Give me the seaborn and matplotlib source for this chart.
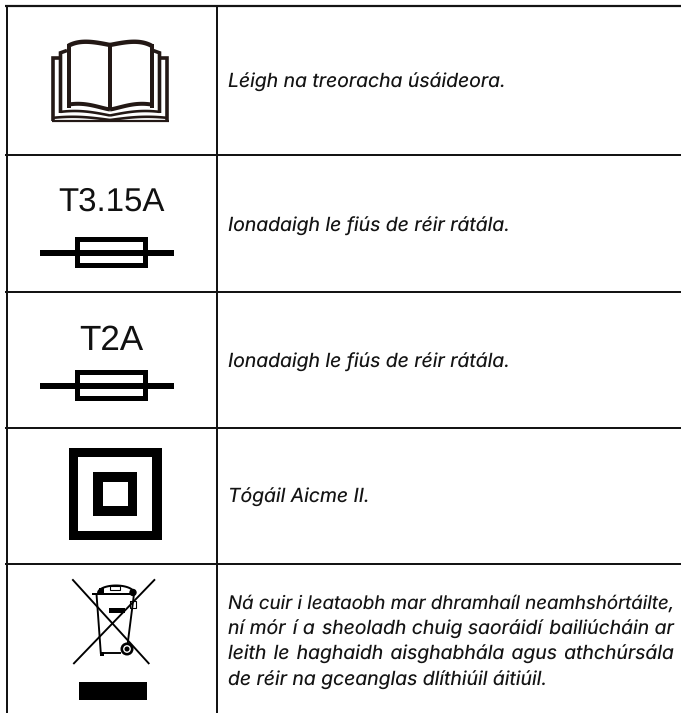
import matplotlib
matplotlib.use("Agg")
import matplotlib.pyplot as plt
from matplotlib.patches import Rectangle, Circle
import numpy as np
import seaborn as sns

sns.set_theme(style="white")
plt.rcParams['font.family'] = ['Inter', 'Roboto', 'DejaVu Sans']
plt.rcParams['text.hinting'] = 'none'
plt.rcParams['text.hinting_factor'] = 1

symbol_labels = ["T3.15A", "T2A"]
descriptions = [
    "Léigh na treoracha úsáideora.",
    "Ionadaigh le fiús de réir rátála.",
    "Ionadaigh le fiús de réir rátála.",
    "Tógáil Aicme II.",
]
last_lines = [
    "Ná cuir i leataobh mar dhramhaíl neamhshórtáilte,",
    "ní mór í a sheoladh chuig saoráidí bailiúcháin ar",
    "leith le haghaidh aisghabhála agus athchúrsála",
    "de réir na gceanglas dlíthiúil áitiúil.",
]

W, H = 681, 713
PX = 72 / 100
fig = plt.figure(figsize=(W / 100, H / 100), dpi=100)
ax = fig.add_axes([0, 0, 1, 1])
ax.set_xlim(0, W)
ax.set_ylim(H, 0)
ax.axis("off")
BLACK = "#000000"
DARK = "#231815"
TXT = "#141414"
FS = 19.4 * PX


def rule(x, y, lw=2.0, color="#141414"):
    sns.lineplot(x=x, y=y, ax=ax, color=color, linewidth=lw * PX, sort=False,
                 estimator=None, legend=False, solid_capstyle="butt")


def stroke(x, y, lw, color=BLACK, cap="butt", join="miter"):
    ax.plot(x, y, color=color, lw=lw * PX, solid_capstyle=cap, solid_joinstyle=join)


def box(x0, y0, x1, y1, color=BLACK):
    ax.add_patch(Rectangle((x0, y0), x1 - x0, y1 - y0, facecolor=color, edgecolor="none"))


# table rules
rule([5, 681], [6, 6], 2.2)
for yy in [155.3, 291.6, 427.8, 563.5]:
    rule([5, 681], [yy, yy], 2.0)
rule([6.5, 6.5], [5, 713], 2.0)
rule([217, 217], [5, 713], 2.0)

# book
b_lw = 4.0
t = np.linspace(0, 1, 40)
for s in (-1, 1):
    xt = 110 + s * 41.5 * t
    yt = 45 - 3.6 * np.sin(t * np.pi * 0.72) + 3.5 * t ** 5
    stroke(xt, yt, 4.4, DARK, join="round")
    stroke([110 + s * 41.5, 110 + s * 41.5], [yt[-1] - 1.5, 108], b_lw, DARK)
    xb = 110 + s * 41.5 * t
    yb = 109.5 - 6.5 * np.sin(t * np.pi * 0.62) ** 1.2 + 1.0 * t
    stroke(xb, yb, b_lw, DARK, join="round")
    stroke([110 + s * 43, 110 + s * 49.5, 110 + s * 49.5], [50.5, 52.8, 113], b_lw - 0.4, DARK)
    xb2 = 110 + s * 49.5 * t
    yb2 = 115.5 - 4.5 * np.sin(t * np.pi * 0.7)
    stroke(xb2, yb2, 2.6, DARK, join="round")
    stroke([110 + s * 50.5, 110 + s * 56.7, 110 + s * 56.7], [58, 58, 121], b_lw - 0.4, DARK)
    xb3 = 110 + s * 56 * t
    yb3 = 120 - 3.2 * np.sin(t * np.pi * 0.75)
    stroke(xb3, yb3, 2.6, DARK, join="round")
    stroke([110, 110 + s * 58.5], [120.6, 120.6], 2.2, DARK)
stroke([110, 110], [44, 110], 4.0, DARK)


def fuse(ymid):
    box(40, ymid - 3.4, 174, ymid + 3.4)
    box(75, ymid - 16, 147.5, ymid + 15.2)
    box(80, ymid - 11, 142.7, ymid - 3.4, "white")
    box(80, ymid + 3.4, 142.7, ymid + 10, "white")


ax.text(111, 210.7, symbol_labels[0], fontsize=33 * PX, family="Liberation Sans",
        color="#111111", ha="center", va="baseline")
fuse(253)
ax.text(111, 350, symbol_labels[1], fontsize=35 * PX, family="Liberation Sans",
        color="#111111", ha="center", va="baseline")
fuse(386)

# class II square
box(69, 447.7, 161.5, 540)
box(78.3, 457, 152, 530.5, "white")
box(93, 472, 137, 516)
box(103, 481.5, 127.5, 506, "white")

# WEEE bin
stroke([72.3, 149.3], [579.3, 664], 1.9)
stroke([155, 73.3], [579.3, 664], 1.9)
stroke([96.5, 100.8, 121], [594, 653, 653], 1.9)
stroke([134, 127.5], [594, 645], 1.9)
stroke([92, 134], [594, 594], 2.0)
a = np.linspace(np.pi, 2 * np.pi, 30)
stroke(116 + 18 * np.cos(a), 593 + 7.5 * np.sin(a), 2.0)
box(99, 588, 103.5, 594)
stroke([110, 120, 120, 110, 110], [585.8, 585.8, 589.5, 589.5, 585.8], 1.1)
ax.add_patch(Circle((133, 592.5), 3, color=BLACK))
box(109, 608.3, 125, 612.7)
stroke([129.5, 136, 136, 129.5, 129.5], [600.7, 600.7, 607.5, 607.5, 600.7], 1.1)
box(99.5, 652, 104, 656)
ax.add_patch(Circle((127, 649), 5.2, facecolor="white", edgecolor=BLACK, lw=2.6 * PX, zorder=3))
ax.add_patch(Circle((127, 649), 1.8, color=BLACK, zorder=4))
box(79, 681.7, 147, 700)

# text
LEFT = 228
RIGHT = 674
HAIR = "\u200a"
TXT_KW = dict(fontsize=FS, style="italic", color=TXT, ha="left", va="baseline")
for s, base in zip(descriptions, [88, 232, 367.7, 503.3]):
    ax.text(LEFT, base, s, **TXT_KW)

r = fig.canvas.get_renderer()


def width(s, art):
    return r.get_text_width_height_descent(s, art.get_fontproperties(), False)[0]


for i, (s, base) in enumerate(zip(last_lines, [609, 635, 660, 686])):
    art = ax.text(LEFT, base, s, **TXT_KW)
    if i == 3:
        continue
    natural = width(s, art)
    if natural > RIGHT - LEFT:
        art.set_fontsize(FS * (RIGHT - LEFT) / natural)
        continue
    gaps = s.count(" ")
    one = width(s + HAIR, art) - natural
    extra = (RIGHT - LEFT) - natural
    if one > 0 and extra > 0:
        total = int(round(extra / one))
        parts = s.split(" ")
        out = parts[0]
        used = 0
        for k, w in enumerate(parts[1:], 1):
            n = round(total * k / gaps) - used
            used += n
            out += " " + HAIR * n + w
        art.set_text(out)

fig.savefig("out.png", dpi=100, facecolor="white")
